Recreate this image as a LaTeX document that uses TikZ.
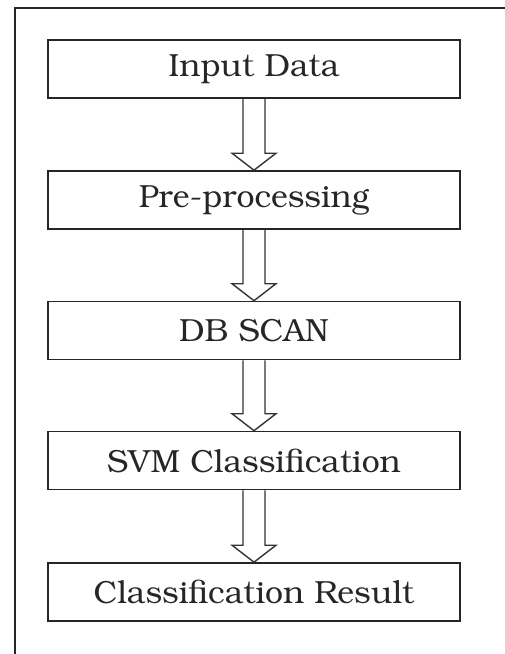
\documentclass[tikz,border=0pt]{standalone}
\usepackage[T1]{fontenc}
\usepackage{bookman}
\usetikzlibrary{positioning}
\tikzset{
  stepbox/.style={draw=black!85, line width=1.6pt, minimum width=412pt, minimum height=58pt,
    inner sep=0pt, font=\fontsize{32}{38}\selectfont, text=black!85},
  frameline/.style={draw=black!85, line width=1.8pt},
  blockarr/.style={draw=black!80, line width=1.4pt, line join=miter}
}
\newcommand\blockarrow[2]{%
  \draw[blockarr] ([xshift=-11pt]#1.south) -- ([xshift=-11pt,yshift=17pt]#2.north)
    -- ([xshift=-22pt,yshift=17pt]#2.north) -- (#2.north)
    -- ([xshift=22pt,yshift=17pt]#2.north) -- ([xshift=11pt,yshift=17pt]#2.north)
    -- ([xshift=11pt]#1.south);}
\begin{document}
\begin{tikzpicture}[x=1pt,y=-1pt]
\useasboundingbox (0,0) rectangle (505,654);
\coordinate (fb) at (15,654);
\coordinate (fc) at (15,8);
\coordinate (fr) at (505,8);
\draw[frameline] (fb) -- (fc) -- (fr);
\node[stepbox] (a) at (254,69) {Input Data};
\node[stepbox] (b) at (254,200) {Pre-processing};
\node[stepbox] (c) at (254,330.5) {DB SCAN};
\node[stepbox] (d) at (254,460.5) {SVM Classification};
\node[stepbox] (e) at (254,592) {Classification Result};
\blockarrow{a}{b}
\blockarrow{b}{c}
\blockarrow{c}{d}
\blockarrow{d}{e}
\end{tikzpicture}
\end{document}
